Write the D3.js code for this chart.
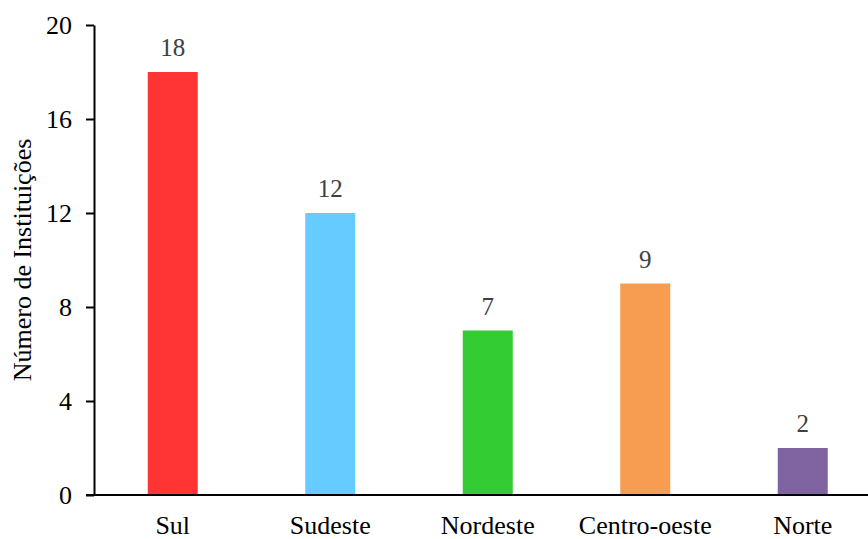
<!DOCTYPE html>
<html>
<head>
<meta charset="utf-8">
<script src="https://cdn.jsdelivr.net/npm/d3@7"></script>
<style>
  body { margin: 0; background: #fff; }
</style>
</head>
<body>
<svg id="chart" width="868" height="539"></svg>
<script>
// Data
let regions = ["Sul", "Sudeste", "Nordeste", "Centro-oeste", "Norte"];
let counts = [18, 12, 7, 9, 2];
let barColors = ["#ff3535", "#66ccff", "#33cc33", "#f79d52", "#8064a2"];
let yTicks = [0, 4, 8, 12, 16, 20];

let serif = "Liberation Serif";

let svg = d3.select("#chart");

// Scales
let x = d3.scaleBand()
  .domain(regions)
  .range([94, 881.5])
  .paddingInner(0.6825)
  .paddingOuter(0.34125);

let y = d3.scaleLinear()
  .domain([0, 20])
  .range([495, 25]);

// Y axis
let yAxis = svg.append("g")
  .attr("transform", "translate(94,0)")
  .call(d3.axisLeft(y).tickValues(yTicks).tickSize(8).tickSizeOuter(0))
  .attr("font-family", serif);
yAxis.select(".domain").attr("stroke", "#000").attr("stroke-width", 2);
yAxis.selectAll(".tick line").attr("stroke", "#000").attr("stroke-width", 2);
yAxis.selectAll(".tick text")
  .attr("x", -22)
  .attr("font-family", serif)
  .attr("font-size", 26)
  .attr("fill", "#000");

// Y title
svg.append("text")
  .attr("transform", "translate(31,260) rotate(-90)")
  .attr("text-anchor", "middle")
  .attr("font-family", serif)
  .attr("font-size", 26)
  .text("Número de Instituições");

// Bars
svg.selectAll("rect.bar")
  .data(counts)
  .join("rect")
  .attr("class", "bar")
  .attr("x", (d, i) => x(regions[i]))
  .attr("y", d => y(d))
  .attr("width", x.bandwidth())
  .attr("height", d => y(0) - y(d))
  .attr("fill", (d, i) => barColors[i]);

// Value labels
svg.selectAll("text.val")
  .data(counts)
  .join("text")
  .attr("class", "val")
  .attr("x", (d, i) => x(regions[i]) + x.bandwidth() / 2)
  .attr("y", d => y(d) - 16)
  .attr("text-anchor", "middle")
  .attr("font-family", serif)
  .attr("font-size", 25)
  .attr("fill", "#404040")
  .text(d => d);

// X axis
let xAxis = svg.append("g")
  .attr("transform", "translate(0,495)")
  .call(d3.axisBottom(x).tickSize(0).tickSizeOuter(0))
  .attr("font-family", serif);
xAxis.select(".domain")
  .attr("d", "M86,0H868")
  .attr("stroke", "#000")
  .attr("stroke-width", 2);
xAxis.selectAll(".tick text")
  .attr("y", 21)
  .attr("dy", "0.71em")
  .attr("font-family", serif)
  .attr("font-size", 26)
  .attr("fill", "#000");
</script>
</body>
</html>
